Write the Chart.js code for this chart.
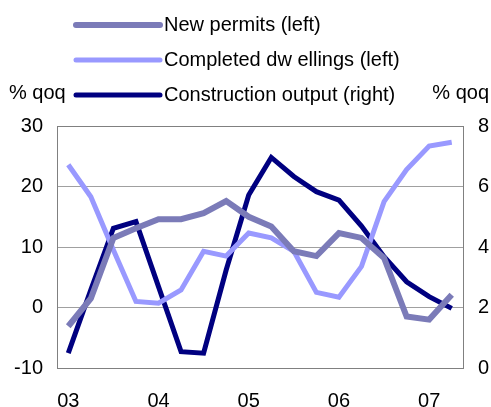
<!DOCTYPE html>
<html>
<head>
<meta charset="utf-8">
<script src="https://cdn.jsdelivr.net/npm/chart.js@4/dist/chart.umd.min.js"></script>
<style>
  html, body { margin: 0; padding: 0; background: #fff; }
  #wrap { width: 491px; height: 407px; position: relative; }
</style>
</head>
<body>
<div id="wrap"><canvas id="myChart" width="491" height="407"></canvas></div>
<script>
// quarterly, 2003Q1 .. 2007Q2
var quarters = ['03', '', '', '', '04', '', '', '', '05', '', '', '', '06', '', '', '', '07', ''];
var newPermits = [-3.1, 1.5, 11.5, 13.1, 14.6, 14.6, 15.6, 17.6, 15.0, 13.4, 9.3, 8.5, 12.3, 11.5, 8.2, -1.5, -2.0, 2.1];
var completedDwellings = [23.6, 18.3, 9.5, 1.0, 0.7, 2.9, 9.3, 8.5, 12.3, 11.5, 9.3, 2.5, 1.7, 6.8, 17.5, 22.8, 26.7, 27.3];
var constructionOutput = [0.49, 2.58, 4.62, 4.84, 2.69, 0.54, 0.49, 3.24, 5.72, 6.96, 6.33, 5.83, 5.55, 4.69, 3.68, 2.85, 2.36, 1.97];
var leftTicks = [-10, 0, 10, 20, 30];
var rightTicks = [0, 2, 4, 6, 8];

var FONT = 'Liberation Sans, Arial, sans-serif';
var PERMITS_COL = '#7b7bb8';
var COMPLETED_COL = '#9999ff';
var OUTPUT_COL = '#000080';

// legend + unit labels + plot box
const decorPlugin = {
  id: 'decor',
  afterDraw(chart) {
    const ctx = chart.ctx;
    const a = chart.chartArea;
    ctx.save();
    ctx.strokeStyle = '#808080';
    ctx.lineWidth = 1;
    ctx.strokeRect(a.left + 0.5, a.top + 0.5, a.right - a.left, a.bottom - a.top);

    const items = [
      ['New permits (left)', PERMITS_COL, 6, 25],
      ['Completed dw ellings (left)', COMPLETED_COL, 5, 60],
      ['Construction output (right)', OUTPUT_COL, 5, 95]
    ];
    ctx.font = '20px ' + FONT;
    ctx.textBaseline = 'middle';
    ctx.lineCap = 'round';
    items.forEach(function (it) {
      ctx.strokeStyle = it[1];
      ctx.lineWidth = it[2];
      ctx.beginPath();
      ctx.moveTo(76, it[3]);
      ctx.lineTo(160, it[3]);
      ctx.stroke();
      ctx.fillStyle = '#000';
      ctx.textAlign = 'left';
      ctx.fillText(it[0], 164, it[3]);
    });
    ctx.fillText('% qoq', 9, 93);
    ctx.textAlign = 'right';
    ctx.fillText('% qoq', 489, 93);
    ctx.restore();
  }
};

const data = {
  labels: quarters,
  datasets: [
    {
      label: 'New permits (left)',
      data: newPermits,
      borderColor: PERMITS_COL,
      borderWidth: 6,
      yAxisID: 'y',
      pointRadius: 0,
      tension: 0
    },
    {
      label: 'Completed dwellings (left)',
      data: completedDwellings,
      borderColor: COMPLETED_COL,
      borderWidth: 5,
      yAxisID: 'y',
      pointRadius: 0,
      tension: 0
    },
    {
      label: 'Construction output (right)',
      data: constructionOutput,
      borderColor: OUTPUT_COL,
      borderWidth: 5,
      yAxisID: 'y2',
      pointRadius: 0,
      tension: 0
    }
  ]
};

const config = {
  type: 'line',
  data: data,
  options: {
    responsive: false,
    animation: false,
    layout: { padding: { top: 126, left: 0, right: 0, bottom: 0 } },
    plugins: { legend: { display: false }, tooltip: { enabled: false } },
    scales: {
      x: {
        type: 'category',
        offset: true,
        grid: { display: false, drawTicks: false },
        border: { color: '#808080' },
        ticks: {
          autoSkip: false, maxRotation: 0, padding: 21,
          color: '#000', font: { family: FONT, size: 20 }
        },
        afterFit: function (s) { s.height = 39; }
      },
      y: {
        position: 'left',
        min: -10, max: 30,
        afterBuildTicks: function (s) { s.ticks = leftTicks.map(v => ({ value: v })); },
        grid: { color: '#a0a0a0', drawTicks: false },
        border: { color: '#808080' },
        ticks: { padding: 14, color: '#000', font: { family: FONT, size: 20 } },
        afterFit: function (s) { s.width = 57; }
      },
      y2: {
        position: 'right',
        min: 0, max: 8,
        afterBuildTicks: function (s) { s.ticks = rightTicks.map(v => ({ value: v })); },
        grid: { display: false, drawTicks: false },
        border: { color: '#808080' },
        ticks: { padding: 15, color: '#000', font: { family: FONT, size: 20 } },
        afterFit: function (s) { s.width = 28; }
      }
    }
  },
  plugins: [decorPlugin]
};

var ctx = document.getElementById('myChart').getContext('2d');
var myChart = new Chart(ctx, config);
</script>
</body>
</html>
